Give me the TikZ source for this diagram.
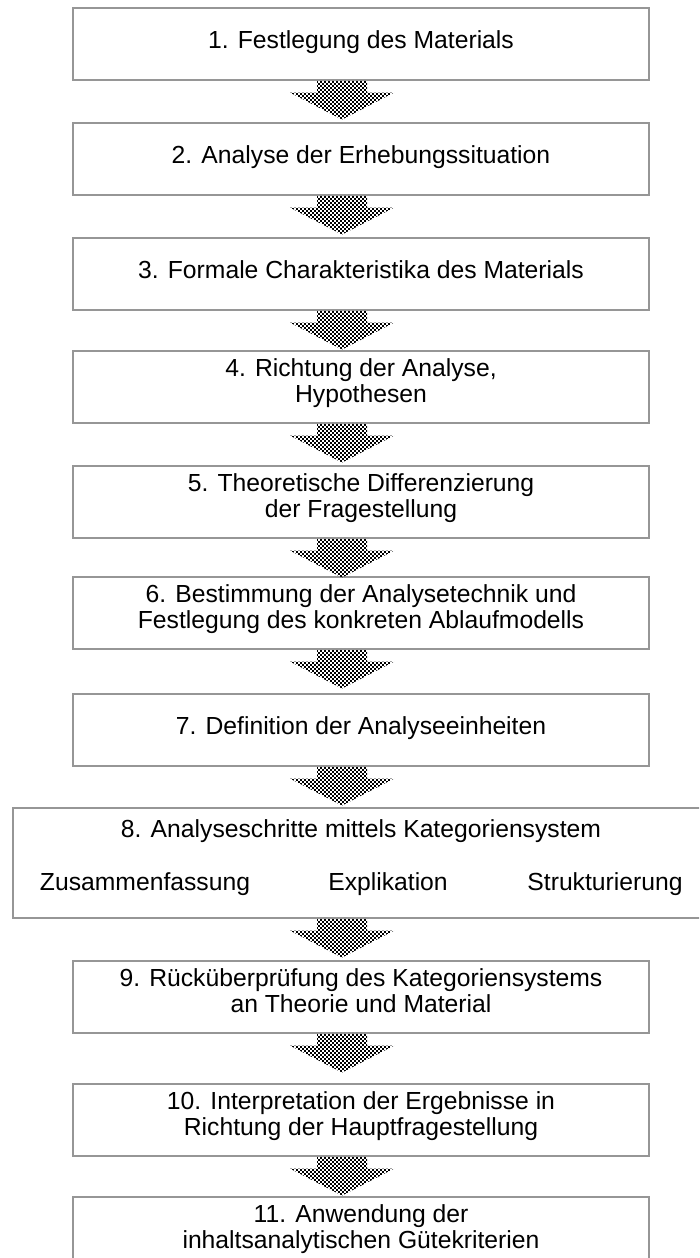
\documentclass[tikz,border=0pt]{standalone}
\usepackage{fontspec}
\setmainfont{Liberation Sans}
\usetikzlibrary{calc}

\definecolor{boxgray}{RGB}{150,150,150}

\tikzset{
  stepbox/.style={draw=boxgray, line width=1.6pt, minimum width=576pt,
                  minimum height=72pt, anchor=north, inner sep=0pt},
  steptext/.style={font=\fontsize{24.7}{26}\selectfont, inner sep=0pt, anchor=base},
  checkrow/.style={line width=2pt, dash pattern=on 2pt off 2pt},
}

% fat checkered arrow hanging below box #1, pointing towards box #2
\newcommand\flowarrow[2]{%
  \begin{scope}[shift={(ax |- #1.south)}]
    \clip (-25,0) -- (25,0) -- (25,12) -- (52,12) -- (0,39)
          -- (-52,12) -- (-25,12) -- cycle;
    \foreach \k in {0,...,19}{
      \pgfmathsetmacro\ph{mod(\k,2)*2}
      \draw[checkrow, dash phase=\ph pt] (-54,2*\k+1) -- (54,2*\k+1);
    }
  \end{scope}}

\begin{document}
\begin{tikzpicture}[x=1pt, y=-1pt]
  \clip (0,0) rectangle (699,1258);
  \fill[white] (0,0) rectangle (699,1258);
  \coordinate (ax) at (342,0);

  % boxes
  \node[stepbox] (b1) at (361,7) {};
  \node[stepbox] (b2) at (361,122) {};
  \node[stepbox] (b3) at (361,237) {};
  \node[stepbox] (b4) at (361,350) {};
  \node[stepbox] (b5) at (361,465) {};
  \node[stepbox] (b6) at (361,576) {};
  \node[stepbox] (b7) at (361,693) {};
  \node[stepbox, minimum width=696pt, minimum height=110pt] (b8) at (361,807) {};
  \node[stepbox] (b9) at (361,960) {};
  \node[stepbox] (b10) at (361,1083) {};
  \node[stepbox, minimum height=90pt] (b11) at (361,1196) {};

  % labels
  \node[steptext] (t1) at (361,48) {1. Festlegung des Materials};
  \node[steptext] (t2) at (361,163) {2. Analyse der Erhebungssituation};
  \node[steptext] (t3) at (361,278) {3. Formale Charakteristika des Materials};
  \node[steptext] (t4a) at (361,376) {4. Richtung der Analyse,};
  \node[steptext] (t4b) at (361,402) {Hypothesen};
  \node[steptext] (t5a) at (361,491) {5. Theoretische Differenzierung};
  \node[steptext] (t5b) at (361,517) {der Fragestellung};
  \node[steptext] (t6a) at (361,602) {6. Bestimmung der Analysetechnik und};
  \node[steptext] (t6b) at (361,628) {Festlegung des konkreten Ablaufmodells};
  \node[steptext] (t7) at (361,734) {7. Definition der Analyseeinheiten};
  \node[steptext] (t8) at (361,837) {8. Analyseschritte mittels Kategoriensystem};
  \node[steptext] (t8a) at (145,890) {Zusammenfassung};
  \node[steptext] (t8b) at (388,890) {Explikation};
  \node[steptext] (t8c) at (605,890) {Strukturierung};
  \node[steptext] (t9a) at (361,986) {9. Rücküberprüfung des Kategoriensystems};
  \node[steptext] (t9b) at (361,1012) {an Theorie und Material};
  \node[steptext] (t10a) at (361,1109) {10. Interpretation der Ergebnisse in};
  \node[steptext] (t10b) at (361,1135) {Richtung der Hauptfragestellung};
  \node[steptext] (t11a) at (361,1222) {11. Anwendung der};
  \node[steptext] (t11b) at (361,1248) {inhaltsanalytischen Gütekriterien};

  % arrows
  \flowarrow{b1}{b2}
  \flowarrow{b2}{b3}
  \flowarrow{b3}{b4}
  \flowarrow{b4}{b5}
  \flowarrow{b5}{b6}
  \flowarrow{b6}{b7}
  \flowarrow{b7}{b8}
  \flowarrow{b8}{b9}
  \flowarrow{b9}{b10}
  \flowarrow{b10}{b11}
\end{tikzpicture}
\end{document}
